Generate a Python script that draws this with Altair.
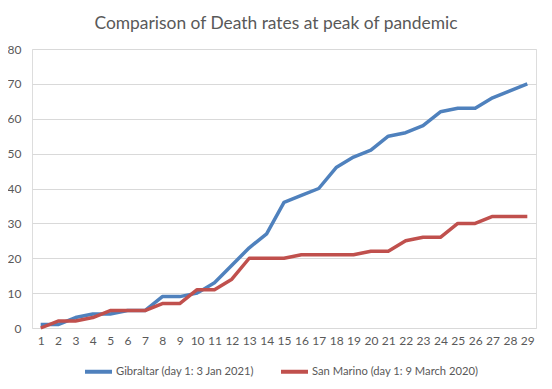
import altair as alt
import pandas as pd

days = list(range(1, 30))
gibraltar = [1, 1, 3, 4, 4, 5, 5, 9, 9, 10, 13, 18, 23, 27, 36, 38, 40, 46, 49, 51,
             55, 56, 58, 62, 63, 63, 66, 68, 70]
san_marino = [0, 2, 2, 3, 5, 5, 5, 7, 7, 11, 11, 14, 20, 20, 20, 21, 21, 21, 21, 22,
              22, 25, 26, 26, 30, 30, 32, 32, 32]
series_names = ["Gibraltar (day 1: 3 Jan 2021)", "San Marino (day 1: 9 March 2020)"]
colors = ["#4F81BD", "#C0504D"]

rows = []
for d, g, s in zip(days, gibraltar, san_marino):
    rows.append({"day": d, "deaths": g, "series": series_names[0]})
    rows.append({"day": d, "deaths": s, "series": series_names[1]})
df = pd.DataFrame(rows)

FONT = "Lato"
TXT = "#595959"

chart = alt.Chart(df).mark_line(strokeWidth=3.5, strokeJoin="round").encode(
    x=alt.X("day:O", title=None,
            scale=alt.Scale(type="point", padding=0.5),
            axis=alt.Axis(labelAngle=0, ticks=False, domain=False, grid=False,
                          labelPadding=7, labelFont=FONT, labelFontSize=12,
                          labelColor=TXT)),
    y=alt.Y("deaths:Q", title=None,
            scale=alt.Scale(domain=[0, 80]),
            axis=alt.Axis(values=list(range(0, 81, 10)), ticks=False, domain=False,
                          gridColor="#D9D9D9", gridWidth=1, labelPadding=11,
                          labelFont=FONT, labelFontSize=12, labelColor=TXT)),
    color=alt.Color("series:N", title=None,
                    scale=alt.Scale(domain=series_names, range=colors),
                    legend=alt.Legend(orient="none", direction="horizontal",
                                      legendX=51, legendY=307,
                                      symbolType="stroke", symbolSize=729,
                                      symbolStrokeWidth=4, labelOffset=2,
                                      columnPadding=18, labelFont=FONT,
                                      labelFontSize=11.2, labelColor=TXT,
                                      labelLimit=400)),
).properties(
    width=504, height=279,
    title=alt.TitleParams("Comparison of Death rates at peak of pandemic",
                          font=FONT, fontSize=17.4, fontWeight="normal",
                          color=TXT, anchor="middle", offset=11, dx=-8),
    autosize=alt.AutoSizeParams(type="none"),
    padding={"left": 24, "top": 41, "right": 8, "bottom": 52},
).configure_view(stroke=None).configure(background="white")

chart.save("out.html", embed_options={"renderer": "svg", "actions": False})
